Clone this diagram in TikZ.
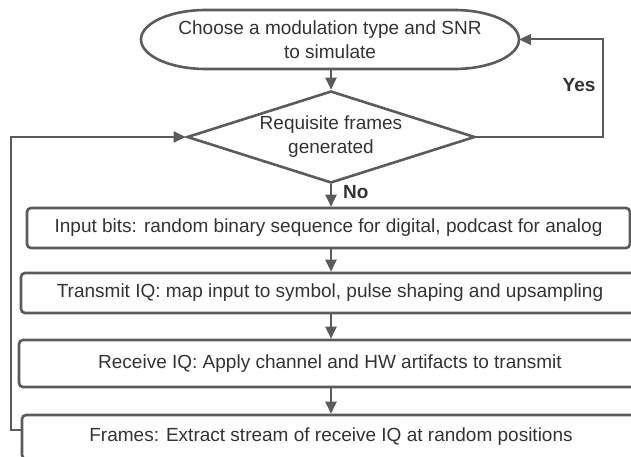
\documentclass[tikz,border=0pt]{standalone}
\usepackage{fontspec}
\setmainfont{Liberation Sans}
\usetikzlibrary{arrows.meta,shapes.geometric,calc}
\definecolor{edge}{HTML}{5B5B5B}
\definecolor{ink}{HTML}{333333}
\begin{document}
\begin{tikzpicture}[x=1pt,y=-1pt,
  every node/.style={font=\fontsize{19}{24}\selectfont, text=ink, align=center, inner sep=0pt},
  stepbox/.style={draw=edge, line width=2.6pt, rounded corners=4pt},
  conn/.style={draw=edge, line width=2pt, -{Triangle[length=12pt,width=11pt]}},
  lbl/.style={font=\fontsize{19}{24}\selectfont\bfseries}]
\useasboundingbox (0,0) rectangle (631,457);
\clip (0,0) rectangle (631,457);

% start / terminator
\node[minimum width=378pt, minimum height=59pt] (start) at (330,39.5)
  {Choose a modulation type and SNR\\to simulate};
\draw[edge, line width=2.6pt]
  (206,10) -- (454,10)
  .. controls (489.9,10) and (519,23.2) .. (519,39.5)
  .. controls (519,55.8) and (489.9,69) .. (454,69)
  -- (206,69)
  .. controls (170.1,69) and (141,55.8) .. (141,39.5)
  .. controls (141,23.2) and (170.1,10) .. cycle;

% decision
\node[diamond, draw=edge, line width=2.6pt, aspect=3.13,
      minimum width=288pt, minimum height=92pt] (dec) at (331,137)
  {Requisite frames\\generated};

% process steps
\node[stepbox, minimum width=603pt, minimum height=40pt] (box1) at (328.5,228)
  {Input bits: random binary sequence for digital, podcast for analog};
\node[stepbox, minimum width=618pt, minimum height=40pt] (box2) at (330,293)
  {Transmit IQ: map input to symbol, pulse shaping and upsampling};
\node[stepbox, minimum width=622pt, minimum height=47pt] (box3) at (330,363.5)
  {Receive IQ: Apply channel and HW artifacts to transmit};
\node[stepbox, minimum width=618pt, minimum height=44pt] (box4) at (331,437)
  {Frames: Extract stream of receive IQ at random positions};

% flow
\draw[conn] (start.south -| dec.north) -- (dec.north);
\draw[conn] (dec.south) -- (box1.north -| dec.south);
\draw[conn] (box1.south -| dec.south) -- (box2.north -| dec.south);
\draw[conn] (box2.south -| dec.south) -- (box3.north -| dec.south);
\draw[conn] (box3.south -| dec.south) -- (box4.north -| dec.south);

% loops
\coordinate (yr) at (603,90);
\coordinate (yl) at (11,300);
\draw[conn] (dec.east) -| (yr) |- (start.east);
\draw[conn] ([yshift=7pt]box4.west) -| (yl) |- (dec.west);

% labels
\node[lbl, anchor=west] (no) at (343,192) {No};
\node[lbl] (yes) at (579,85) {Yes};
\end{tikzpicture}
\end{document}
